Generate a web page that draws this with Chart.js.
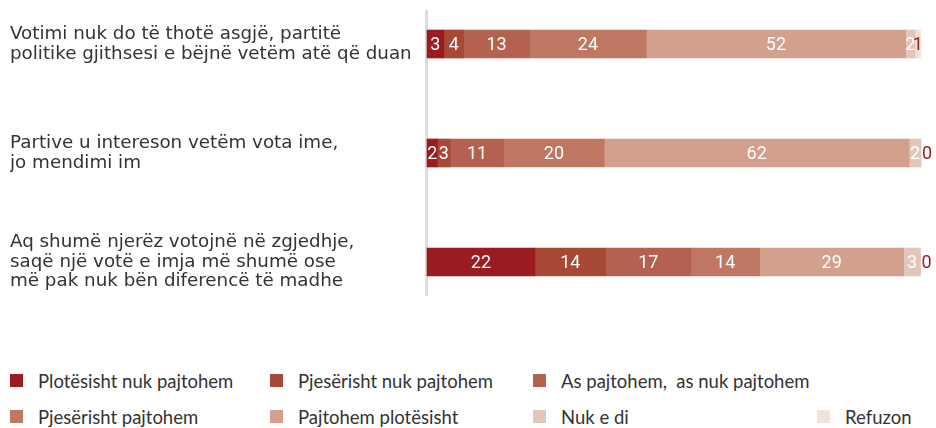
<!DOCTYPE html>
<html>
<head>
<meta charset="utf-8">
<script src="https://cdn.jsdelivr.net/npm/chart.js@4.4.0/dist/chart.umd.min.js"></script>
<style>
body { margin: 0; background: #fff; width: 936px; height: 428px; overflow: hidden; position: relative; font-family: Lato, sans-serif; }
#wrap { position: absolute; left: 0; top: 0; width: 936px; height: 350px; }
#legend { position: absolute; left: 10px; top: 369px; display: grid; grid-template-columns: 260px 263px 284px auto; row-gap: 13px; color: #333; font-size: 18.5px; }
.item { display: flex; align-items: center; height: 23px; white-space: pre; }
.box { width: 13px; height: 13px; margin-right: 15px; flex: none; }
</style>
</head>
<body>
<div id="wrap"><canvas id="chart" width="936" height="350"></canvas></div>
<div id="legend"></div>
<script>
var categories = [
    ['Votimi nuk do të thotë asgjë, partitë', 'politike gjithsesi e bëjnë vetëm atë që duan'],
    ['Partive u intereson vetëm vota ime,', 'jo mendimi im'],
    ['Aq shumë njerëz votojnë në zgjedhje,', 'saqë një votë e imja më shumë ose', 'më pak nuk bën diferencë të madhe']
];

var seriesNames = ['Plotësisht nuk pajtohem', 'Pjesërisht nuk pajtohem', 'As pajtohem,  as nuk pajtohem',
    'Pjesërisht pajtohem', 'Pajtohem plotësisht', 'Nuk e di', 'Refuzon'];
var seriesColors = ['#9a1b20', '#a84837', '#b4614f', '#bf7762', '#d3a08e', '#e3c5b9', '#f3e1db'];

// percentages per statement (row order as categories)
var plotesishtNuk = [3.4, 2.1, 21.8];
var pjeserishtNuk = [4.0, 2.6, 14.3];
var asAs = [13.3, 10.8, 17.2];
var pjeserishtPo = [23.6, 20.3, 13.9];
var plotesishtPo = [52.4, 61.6, 29.1];
var nukEDi = [1.9, 2.4, 3.4];
var refuzon = [1.1, 0, 0];

var seriesValues = [plotesishtNuk, pjeserishtNuk, asAs, pjeserishtPo, plotesishtPo, nukEDi, refuzon];

var axisLine = {
    id: 'axisLine',
    beforeDatasetsDraw: function (chart) {
        var ctx = chart.ctx, a = chart.chartArea;
        ctx.save();
        ctx.strokeStyle = '#dedede';
        ctx.lineWidth = 3;
        ctx.beginPath();
        ctx.moveTo(a.left - 0.5, a.top - 34);
        ctx.lineTo(a.left - 0.5, a.bottom + 34);
        ctx.stroke();
        ctx.restore();
    }
};

var barLabels = {
    id: 'barLabels',
    afterDatasetsDraw: function (chart) {
        var ctx = chart.ctx;
        ctx.save();
        ctx.font = '18px Roboto';
        ctx.textBaseline = 'middle';
        chart.data.datasets.forEach(function (ds, i) {
            var meta = chart.getDatasetMeta(i);
            meta.data.forEach(function (bar, j) {
                var v = ds.data[j];
                var txt = String(Math.round(v));
                ctx.fillStyle = i == 6 ? '#9a1b20' : '#fff';
                if (v === 0) {
                    ctx.textAlign = 'left';
                    ctx.fillText(txt, bar.x + 1, bar.y + 1);
                } else {
                    ctx.textAlign = 'center';
                    ctx.fillText(txt, (bar.x + bar.base) / 2, bar.y + 1);
                }
            });
        });
        ctx.restore();
    }
};

var ctx = document.getElementById('chart');
var myChart = new Chart(ctx, {
    type: 'bar',
    plugins: [axisLine, barLabels],
    data: {
        labels: categories,
        datasets: seriesNames.map(function (name, i) {
            return {
                label: name,
                data: seriesValues[i],
                backgroundColor: seriesColors[i],
                barThickness: 28,
                clip: false,
            };
        })
    },
    options: {
        indexAxis: 'y',
        responsive: false,
        animation: false,
        layout: {
            padding: { left: 10, right: 14, top: 44, bottom: 88 },
        },
        plugins: {
            legend: { display: false },
            tooltip: { enabled: false },
        },
        scales: {
            x: {
                display: false,
                stacked: true,
                min: 0,
                max: 100,
            },
            y: {
                stacked: true,
                offset: false,
                grid: { display: false },
                border: { display: false },
                afterFit: function (scale) {
                    scale.width = 417;
                },
                ticks: {
                    crossAlign: 'far',
                    padding: 0,
                    color: '#333',
                    font: { family: 'DejaVu Sans', size: 18.3, lineHeight: 1.07 },
                },
            },
        },
    },
});

var legend = document.getElementById('legend');
seriesNames.forEach(function (name, i) {
    var item = document.createElement('div');
    item.className = 'item';
    if (i == 3) item.style.gridColumn = '1';
    item.innerHTML = '<span class="box" style="background:' + seriesColors[i] + '"></span><span>' + name + '</span>';
    legend.appendChild(item);
});
</script>
</body>
</html>
